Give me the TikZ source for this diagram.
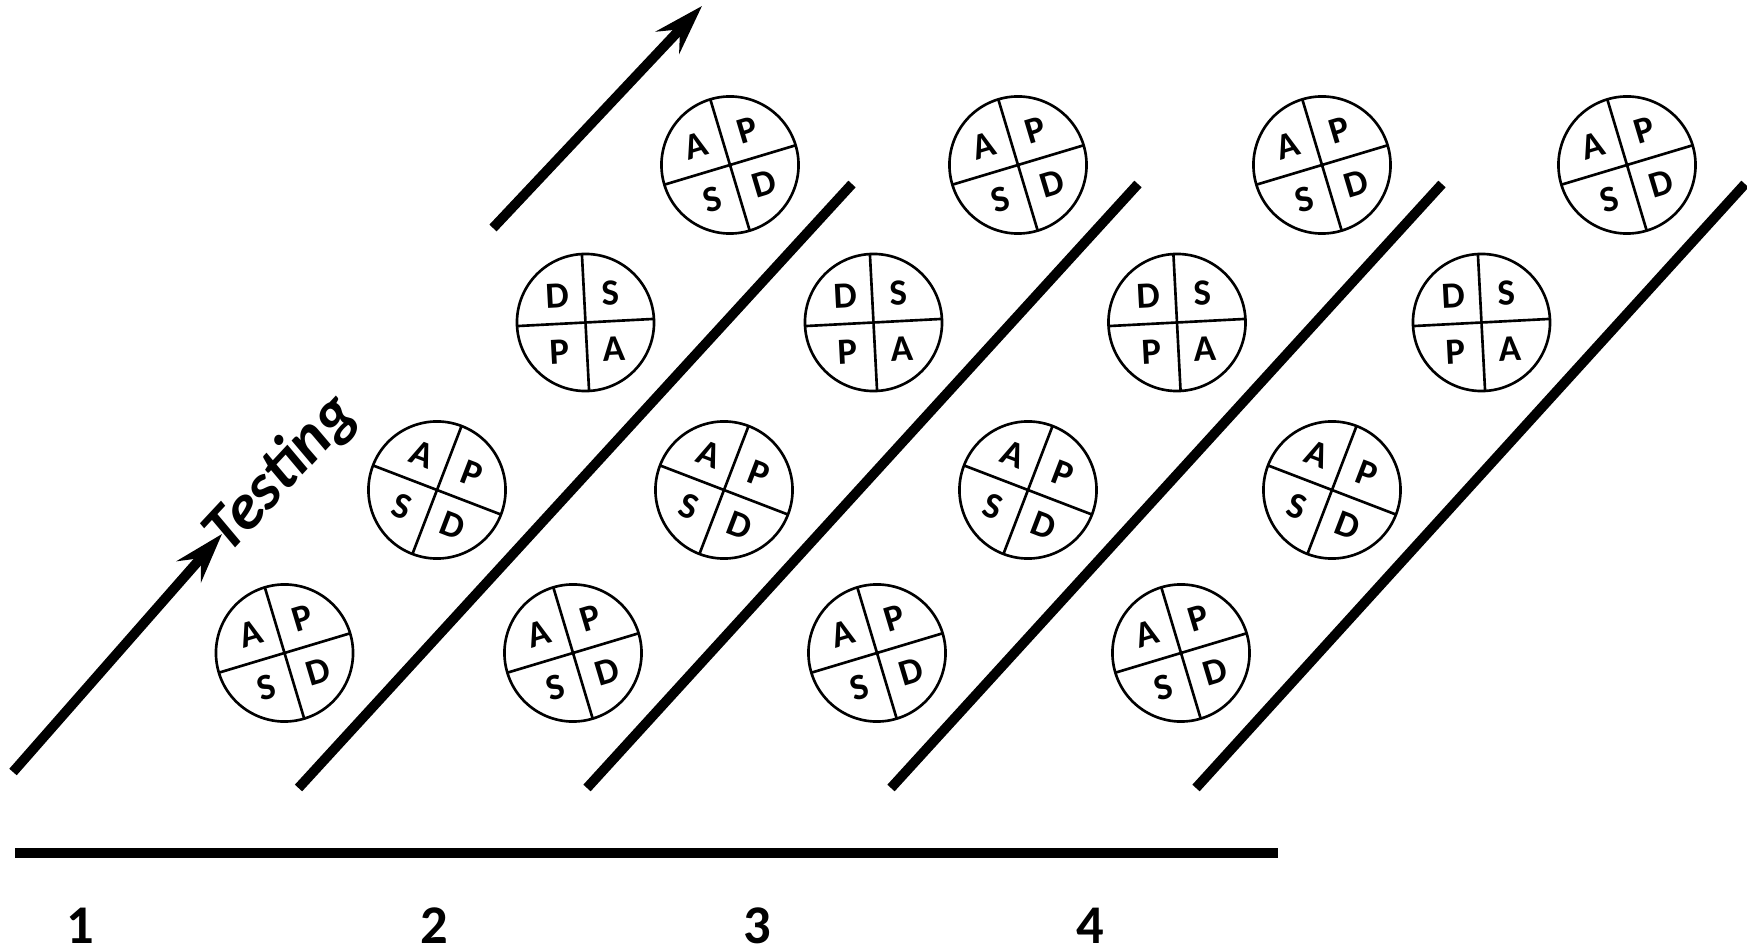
\documentclass[tikz,border=0pt]{standalone}
\usepackage{fontspec}
\setmainfont{Carlito}
\usetikzlibrary{arrows.meta}
\tikzset{
  ring/.style={circle, draw, line width=0.75pt, minimum size=1.37cm, inner sep=0pt, outer sep=0pt},
  divider/.style={line width=0.75pt},
  letter/.style={font=\fontsize{10.5}{12}\selectfont\bfseries, inner sep=0pt},
  bar/.style={line width=2.8pt},
  arr/.style={bar, -{Stealth[length=5mm, width=3.2mm, inset=1.8mm]}},
  num/.style={font=\fontsize{15.5}{19}\selectfont\bfseries, inner sep=0pt},
  label/.style={font=\fontsize{18.5}{22}\selectfont\bfseries\itshape, inner sep=0pt}
}
% name, x, y, rotation, upper-left, upper-right, lower-left, lower-right
\newcommand\pdcacirc[8]{%
  \begin{scope}[shift={(#2,#3)}, rotate=#4, transform shape]
    \node[ring] (#1) at (0,0) {};
    \draw[divider] (#1.north) -- (#1.south);
    \draw[divider] (#1.west) -- (#1.east);
    \node[letter] (#1ul) at (-27,-28) {#5};
    \node[letter] (#1ur) at (27,-28) {#6};
    \node[letter] (#1ll) at (-27,28) {#7};
    \node[letter] (#1lr) at (27,28) {#8};
  \end{scope}}
\begin{document}
\begin{tikzpicture}[x=0.01cm, y=-0.01cm]
\useasboundingbox (0,0) rectangle (1747,949);
% row 1
\pdcacirc{a1}{284.5}{653}{16.7}{A}{P}{S}{D}
\pdcacirc{a2}{573}{653}{16.7}{A}{P}{S}{D}
\pdcacirc{a3}{877}{653}{16.7}{A}{P}{S}{D}
\pdcacirc{a4}{1181}{653}{16.7}{A}{P}{S}{D}
% row 2
\pdcacirc{b1}{437}{490}{-21}{A}{P}{S}{D}
\pdcacirc{b2}{724}{490}{-21}{A}{P}{S}{D}
\pdcacirc{b3}{1028}{490}{-21}{A}{P}{S}{D}
\pdcacirc{b4}{1332}{490}{-21}{A}{P}{S}{D}
% row 3
\pdcacirc{c1}{585.5}{322.5}{3}{D}{S}{P}{A}
\pdcacirc{c2}{873.5}{322.5}{3}{D}{S}{P}{A}
\pdcacirc{c3}{1177}{322.5}{3}{D}{S}{P}{A}
\pdcacirc{c4}{1481.5}{322.5}{3}{D}{S}{P}{A}
% row 4
\pdcacirc{d1}{730}{165}{16.7}{A}{P}{S}{D}
\pdcacirc{d2}{1018}{165}{16.7}{A}{P}{S}{D}
\pdcacirc{d3}{1322}{165}{16.7}{A}{P}{S}{D}
\pdcacirc{d4}{1627}{165}{16.7}{A}{P}{S}{D}
% diagonal separators
\coordinate (s0a) at (13,772);   \coordinate (s0b) at (222,534);
\coordinate (s1a) at (298.5,788); \coordinate (s1b) at (852,184);
\coordinate (s2a) at (587,788);  \coordinate (s2b) at (1138,184);
\coordinate (s3a) at (891,788);  \coordinate (s3b) at (1442,184);
\coordinate (s4a) at (1196,788); \coordinate (s4b) at (1745,184);
\coordinate (ta) at (493,228);   \coordinate (tb) at (702,6);
\coordinate (ba) at (15,853);    \coordinate (bb) at (1278,853);
\draw[arr] (s0a) -- (s0b);
\draw[bar] (s1a) -- (s1b);
\draw[bar] (s2a) -- (s2b);
\draw[bar] (s3a) -- (s3b);
\draw[bar] (s4a) -- (s4b);
\draw[arr] (ta) -- (tb);
\draw[bar] (ba) -- (bb);
\node[label, anchor=base west, rotate=47] (test) at (228,556) {Testing};
\node[num] (n1) at (80,926) {1};
\node[num] (n2) at (434,926) {2};
\node[num] (n3) at (757,926) {3};
\node[num] (n4) at (1090.5,926) {4};
\end{tikzpicture}
\end{document}
